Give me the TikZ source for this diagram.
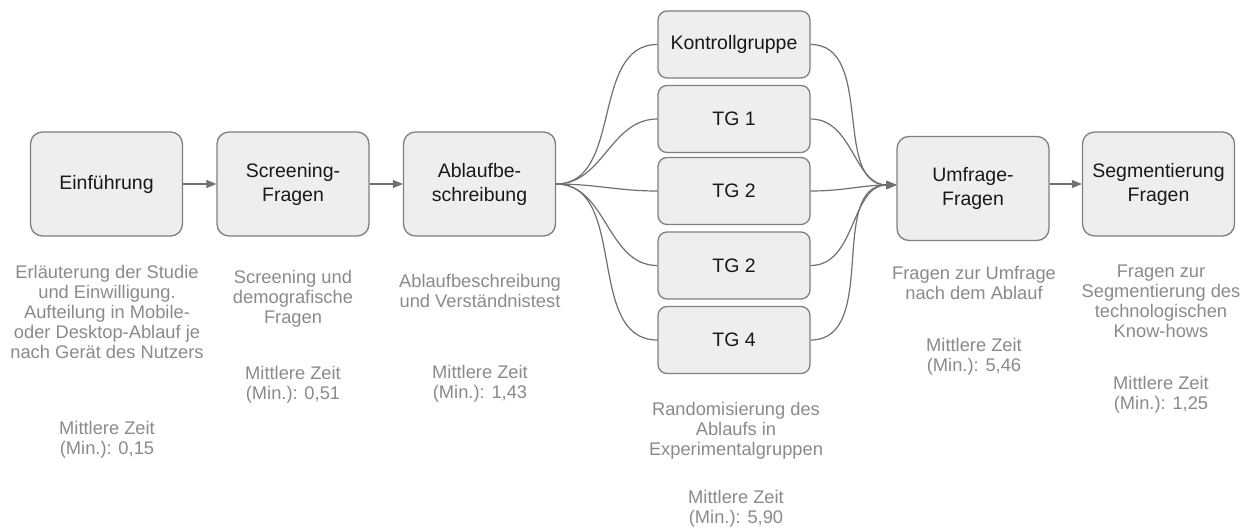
\documentclass[tikz,border=0pt]{standalone}
\usepackage{fontspec}
\setmainfont{Liberation Sans}
\usetikzlibrary{arrows.meta}
\definecolor{boxFill}{HTML}{EEEEEE}
\definecolor{boxLine}{HTML}{7F7F7F}
\definecolor{noteGray}{HTML}{8A8A8A}
\definecolor{linkGray}{HTML}{707070}
\newcommand{\boxFont}{\fontsize{19.5}{24}\selectfont}
\newcommand{\noteFont}{\fontsize{18.3}{20}\selectfont}

\begin{document}
\begin{tikzpicture}[x=1pt, y=-1pt,
    stage/.style={draw=boxLine, fill=boxFill, line width=1.3pt, rounded corners=12pt,
                  minimum width=152pt, minimum height=104pt, inner sep=0pt,
                  align=center, font=\boxFont, text=black!90},
    group/.style={stage, rounded corners=9pt, minimum height=67pt},
    note/.style={anchor=north, align=center, inner sep=0pt, font=\noteFont, text=noteGray},
    link/.style={draw=linkGray, line width=1.2pt},
    tip/.style={-{Triangle[length=10pt,width=8pt]}}]
   \useasboundingbox (0,0) rectangle (1255,530);

   % stages
   \node[stage] (intro)     at (106.5,184) {Einführung};
   \node[stage] (screening) at (293,184)   {Screening-\\Fragen};
   \node[stage] (ablauf)    at (479.5,184) {Ablaufbe-\\schreibung};
   \node[stage] (umfrage)   at (973,188.5) {Umfrage-\\Fragen};
   \node[stage] (segment)   at (1158.5,184) {Segmentierung\\Fragen};

   % experimental groups
   \node[group] (kontrolle) at (734,44.5)  {Kontrollgruppe};
   \node[group] (tgEins)    at (734,119)   {TG 1};
   \node[group] (tgZwei)    at (734,191)   {TG 2};
   \node[group] (tgDrei)    at (734,265.5) {TG 2};
   \node[group] (tgVier)    at (734,340)   {TG 4};

   \draw[link,tip] (intro) -- (screening);
   \draw[link,tip] (screening) -- (ablauf);
   \draw[link,tip] (umfrage.east |- segment) -- (segment);

   \foreach \grp in {kontrolle,tgEins,tgZwei,tgDrei,tgVier}
   {%
      \draw[link] (ablauf.east) to[out=0,in=180] (\grp.west);
      \draw[link,tip] (\grp.east) to[out=0,in=180] (umfrage.west |- 0,185);
   }

   % notes below
   \node[note] (introNote) at (107,265)
      {Erläuterung der Studie\\und Einwilligung.\\Aufteilung in Mobile-\\oder Desktop-Ablauf je\\nach Gerät des Nutzers};
   \node[note] (introTime) at (107,421) {Mittlere Zeit\\(Min.): 0,15};

   \node[note] (screeningNote) at (293,270) {Screening und\\demografische\\Fragen};
   \node[note] (screeningTime) at (293,366) {Mittlere Zeit\\(Min.): 0,51};

   \node[note] (ablaufNote) at (480,274) {Ablaufbeschreibung\\und Verständnistest};
   \node[note] (ablaufTime) at (480,365) {Mittlere Zeit\\(Min.): 1,43};

   \node[note] (groupNote) at (736,402) {Randomisierung des\\Ablaufs in\\Experimentalgruppen};
   \node[note] (groupTime) at (736,490) {Mittlere Zeit\\(Min.): 5,90};

   \node[note] (umfrageNote) at (974,266) {Fragen zur Umfrage\\nach dem Ablauf};
   \node[note] (umfrageTime) at (974,338) {Mittlere Zeit\\(Min.): 5,46};

   \node[note] (segmentNote) at (1161,265) {Fragen zur\\Segmentierung des\\technologischen\\Know-hows};
   \node[note] (segmentTime) at (1161,376) {Mittlere Zeit\\(Min.): 1,25};
\end{tikzpicture}
\end{document}
